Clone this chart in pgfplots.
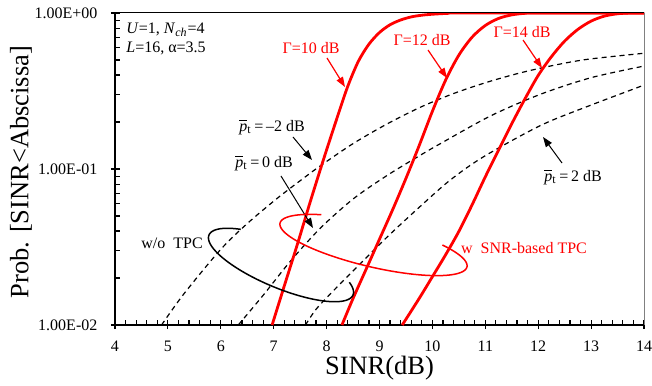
\documentclass[border=0pt]{standalone}
\usepackage{fontspec}
\setmainfont{Liberation Serif}
\usepackage{pgfplots}
\pgfplotsset{compat=1.18}
\usetikzlibrary{arrows.meta}
\newcommand{\fs}{\fontsize{8}{9.6}\selectfont}
\newcommand{\fl}{\fontsize{13.25}{16}\selectfont}
\begin{document}
\begin{tikzpicture}
\begin{axis}[
  name=ax,
  scale only axis, width=264.5pt, height=156pt,
  xmin=4, xmax=14, ymin=0.01, ymax=1, ymode=log,
  axis lines*=left,
  axis line style={line width=1.15pt},
  xtick={4,...,14}, xticklabels={4,5,6,7,8,9,10,11,12,13,14},
  minor x tick num=4,
  ytick={0.01,0.1,1}, yticklabels={1.00E-02,1.00E-01,1.00E+00},
  tick align=inside,
  major tick length=2.5pt, minor tick length=2.5pt,
  every tick/.style={black, line width=0.6pt},
  extra x ticks={4,5,6,7,8,9,10,11,12,13,14}, extra x tick labels={},
  extra x tick style={tick align=outside, major tick length=2pt},
  extra y ticks={0.01,0.1,1}, extra y tick labels={},
  extra y tick style={tick align=outside, major tick length=2pt},
  xticklabel style={font=\fs, anchor=center, yshift=-10.5pt},
  yticklabel style={font=\fs, anchor=east, xshift=-5.3pt},
  xlabel={SINR(dB)},
  xlabel style={font=\fl, at={(axis description cs:0.5,-0.138)}, anchor=center},
  ylabel={Prob. [SINR<Abscissa]},
  ylabel style={font=\fl, at={(axis description cs:-0.1777,0.49)}, anchor=center, rotate=0},
]
% dashed: p_t = -2 dB
\addplot[black, line width=0.6pt, dash pattern=on 2.5pt off 2pt, smooth] coordinates {
(4.88,0.01) (5.3,0.0158) (5.99,0.0303) (6.5,0.0447) (7.06,0.0646) (7.5,0.0841) (7.88,0.1047)
(8.51,0.1462) (9.15,0.195) (9.78,0.2495) (10.41,0.3055) (11.04,0.3606) (11.67,0.414)
(12.3,0.4624) (12.93,0.5047) (14,0.552)};
% dashed: p_t = 0 dB
\addplot[black, line width=0.6pt, dash pattern=on 2.5pt off 2pt, smooth] coordinates {
(6.33,0.01) (6.8,0.0155) (7.31,0.0255) (7.88,0.0417) (8.51,0.0646) (9.15,0.0912)
(9.78,0.123) (10.16,0.146) (11.1,0.219) (12.05,0.302) (13.0,0.385) (14,0.457)};
% dashed: p_t = 2 dB
\addplot[black, line width=0.6pt, dash pattern=on 2.5pt off 2pt, smooth] coordinates {
(7.6,0.01) (7.8,0.0126) (8.1,0.0162) (8.51,0.0224) (9.15,0.0368) (9.78,0.058) (10.34,0.0851)
(10.97,0.12) (12.05,0.1905) (13.0,0.257) (14,0.345)};
% Gamma = 10 dB
\addplot[red, line width=1.4pt, smooth] coordinates {
(6.97,0.01) (7.2,0.0178) (7.45,0.0331) (7.7,0.0631) (7.95,0.1175) (8.2,0.2138) (8.4,0.3388)
(8.6,0.4898) (8.8,0.631) (9.0,0.75) (9.2,0.841) (9.4,0.902) (9.6,0.944) (9.8,0.968)
(10.0,0.982) (10.3,0.995) (10.6,1.0) (14,1.0)};
% Gamma = 12 dB
\addplot[red, line width=1.4pt, smooth] coordinates {
(8.29,0.01) (8.5,0.0148) (8.75,0.0229) (9.0,0.0355) (9.25,0.055) (9.5,0.0871) (9.75,0.1413)
(10.0,0.2344) (10.25,0.3715) (10.5,0.537) (10.75,0.6998) (11.0,0.8318) (11.25,0.9226)
(11.5,0.9727) (11.75,0.9954) (12.0,1.0) (14,1.0)};
% Gamma = 14 dB
\addplot[red, line width=1.4pt, smooth] coordinates {
(9.43,0.01) (9.75,0.0148) (10.0,0.0204) (10.25,0.0282) (10.5,0.0398) (10.75,0.0589)
(11.0,0.0891) (11.25,0.1318) (11.5,0.195) (11.75,0.2818) (12.0,0.398) (12.25,0.5248)
(12.5,0.6607) (12.75,0.7852) (13.0,0.8872) (13.25,0.955) (13.5,0.9886) (13.75,1.0) (14,1.0)};
\end{axis}
\draw[line width=0.5pt] (ax.north west) -- (ax.north east);
\draw[gray, line width=0.5pt] (ax.north east) -- (ax.south east);
\begin{scope}[shift={(ax.north west)}, xshift=-57.5pt, yshift=6.5pt, x=0.5pt, y=-0.5pt]
  \node[anchor=west, font=\fs, inner sep=0pt] at (126,30) {\textit{U}=1, \textit{N}\textsubscript{\textit{ch}}=4};
  \node[anchor=west, font=\fs, inner sep=0pt] at (126,48) {\textit{L}=16, α=3.5};
  \node[red, font=\fs] at (311,48) {Γ=10 dB};
  \node[red, font=\fs] at (422,40) {Γ=12 dB};
  \node[red, font=\fs] at (522,32) {Γ=14 dB};
  \draw[red, line width=0.6pt, -{Triangle[length=5pt,width=3.6pt]}] (327,58) -- (345,87);
  \draw[red, line width=0.6pt, -{Triangle[length=5pt,width=3.6pt]}] (428,50) -- (447,78);
  \draw[red, line width=0.6pt, -{Triangle[length=5pt,width=3.6pt]}] (523,40) -- (542,68);
  \node[font=\fs] at (272,127) {$\overline{\hbox{\textit{p}}}$\textsubscript{t}\,=\,–2 dB};
  \node[font=\fs] at (264,163) {$\overline{\hbox{\textit{p}}}$\textsubscript{t}\,=\,0 dB};
  \node[font=\fs] at (573,177) {$\overline{\hbox{\textit{p}}}$\textsubscript{t}\,=\,2 dB};
  \draw[line width=0.5pt, -{Triangle[length=5pt,width=3.6pt]}] (293,137) -- (312,160);
  \draw[line width=0.5pt, -{Triangle[length=5pt,width=3.6pt]}] (281,176) -- (313,228);
  \draw[line width=0.5pt, -{Triangle[length=5pt,width=3.6pt]}] (562,163) -- (543,137);
  \node[font=\fs] at (172,243) {w/o\ \ TPC};
  \node[red, font=\fs] at (524,248) {w\ \ SNR-based TPC};
  \draw[line width=0.75pt, shift={(281,265)}, rotate=-22.6]
    plot[domain=-26.6:229.3, samples=100] ({78*cos(\x)},{23*sin(\x)});
  \draw[red, line width=0.75pt, shift={(373.5,245)}, rotate=-13.2]
    plot[domain=-45.6:233, samples=100] ({96*cos(\x)},{22*sin(\x)});
\end{scope}
\pgfresetboundingbox
\path (ax.north west) ++(-57.5pt,6.5pt) rectangle ++(326pt,-192.5pt);
\end{tikzpicture}
\end{document}
